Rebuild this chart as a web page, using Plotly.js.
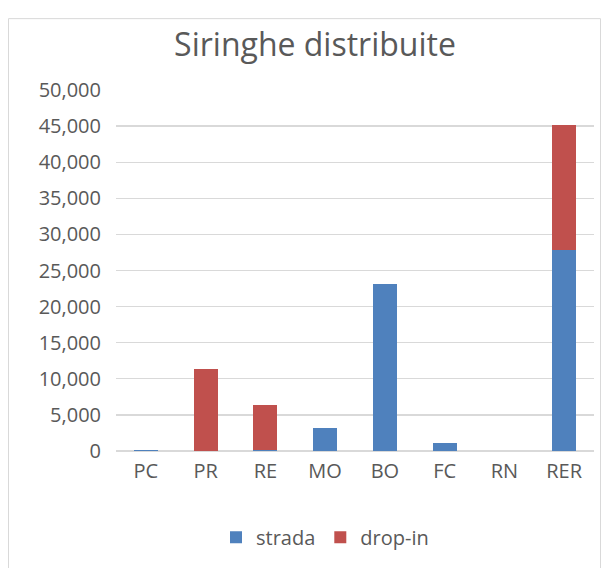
<!DOCTYPE html>
<html>
<head>
<meta charset="utf-8">
<script src="https://cdn.plot.ly/plotly-3.0.1.min.js"></script>
<style>
html,body{margin:0;padding:0;background:#fff;}
#chart{width:608px;height:568px;}
</style>
</head>
<body>
<div id="chart"></div>
<script>
var categories = ["PC", "PR", "RE", "MO", "BO", "FC", "RN", "RER"];
var strada = [120, 0, 150, 3250, 23100, 1050, 0, 27800];
var dropIn = [0, 11300, 6200, 0, 0, 0, 0, 17400];
var yTicks = [0, 5000, 10000, 15000, 20000, 25000, 30000, 35000, 40000, 45000, 50000];

var txt = "#595959";
var fontFam = "'Open Sans', 'Liberation Sans', sans-serif";

var traces = [
  {type: "bar", name: "strada", x: categories, y: strada,
   marker: {color: "#4F81BD"}},
  {type: "bar", name: "drop-in", x: categories, y: dropIn,
   marker: {color: "#C0504D"}}
];

var L = 116, R = 594, T = 90, B = 451.7, W = 608, H = 568;
function px(x){ return (x - L) / (R - L); }
function py(y){ return (B - y) / (B - T); }

var layout = {
  width: W, height: H,
  margin: {l: L, r: W - R, t: T, b: H - B, pad: 0},
  paper_bgcolor: "#fff", plot_bgcolor: "#fff",
  barmode: "stack",
  bargap: 0.6,
  font: {family: fontFam, color: txt, size: 20},
  title: {text: "Siringhe distribuite", font: {family: fontFam, size: 32, color: txt},
          x: 315 / W, xref: "container", xanchor: "center",
          y: 1 - 45 / H, yref: "container", yanchor: "middle"},
  xaxis: {type: "category", showgrid: false, showline: false, zeroline: false,
          ticks: "", tickfont: {size: 20, color: txt}, ticklabelstandoff: 6,
          fixedrange: true},
  yaxis: {range: [0, 50000], tickvals: yTicks, tickformat: ",",
          showgrid: true, gridcolor: "#d9d9d9", gridwidth: 1.3,
          zeroline: true, zerolinecolor: "#d9d9d9", zerolinewidth: 1.3,
          showline: false, ticks: "", ticklabelstandoff: 14,
          tickfont: {size: 20, color: txt}, fixedrange: true},
  showlegend: true,
  legend: {orientation: "h", x: px(325), xanchor: "center", y: py(537), yanchor: "middle",
           font: {size: 20, color: txt}, traceorder: "normal", itemwidth: 30,
           bgcolor: "rgba(0,0,0,0)"},
  shapes: [
    {type: "rect", xref: "paper", yref: "paper",
     x0: px(8.5), x1: px(600.5), y0: py(600), y1: py(18.5),
     line: {color: "#d9d9d9", width: 1}, fillcolor: "rgba(0,0,0,0)", layer: "below"}
  ]
};

Plotly.newPlot("chart", traces, layout, {displayModeBar: false, staticPlot: true});
</script>
</body>
</html>
